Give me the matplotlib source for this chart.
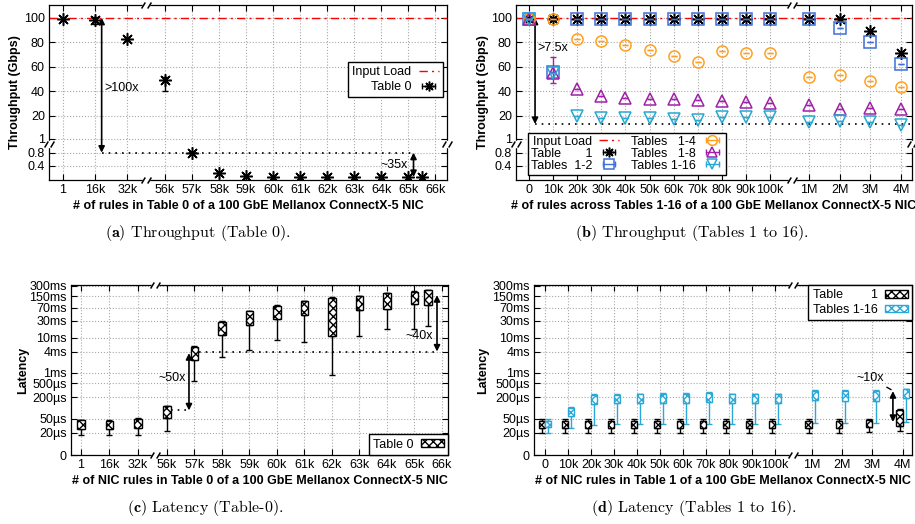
import numpy as np
import matplotlib
matplotlib.use("Agg")
import matplotlib.pyplot as plt
import matplotlib.transforms as mtransforms
from matplotlib.lines import Line2D
from matplotlib.patches import Patch
from matplotlib.path import Path
from matplotlib.legend_handler import HandlerLine2D
from matplotlib.ticker import NullLocator

plt.rcParams['font.family'] = ['Liberation Sans', 'DejaVu Sans']
plt.rcParams['mathtext.fontset'] = 'cm'
plt.rcParams['hatch.linewidth'] = 1.0

# ---------------- data ----------------
input_load = 100

# (a) throughput, Table 0
a_left_labels = ['1', '16k', '32k']
a_left_tput = [99, 98, 82.5]
a_left_err_lo = [0, 3, 0]
a_left_err_hi = [0, 2.5, 0]
a_right_k = [56, 57, 58, 59, 60, 61, 62, 63, 64, 65, 65.5]
a_right_ticks = [56, 57, 58, 59, 60, 61, 62, 63, 64, 65, 66]
a_right_tput = [49, 0.8, 0.17, 0.08, 0.05, 0.05, 0.05, 0.05, 0.05, 0.05, 0.05]
a_right_err_lo = [8.5, 0, 0, 0, 0, 0, 0, 0, 0, 0, 0]
a_right_err_hi = [3, 0, 0, 0, 0, 0, 0, 0, 0, 0, 0]

# (b) throughput, Tables 1-16
b_left_labels = ['0', '10k', '20k', '30k', '40k', '50k', '60k', '70k', '80k', '90k', '100k']
b_right_labels = ['1M', '2M', '3M', '4M']
b_names = ['Table       1', 'Tables  1-2', 'Tables   1-4', 'Tables   1-8', 'Tables 1-16']
b_t1 = [99, 99, 99, 99, 99, 99, 99, 99, 99, 99, 99, 99, 99, 89.5, 71]
b_t2 = [99, 56, 99, 99, 99, 99, 99, 99, 99, 99, 99, 99, 92, 80.5, 62]
b_t4 = [99, 99, 83, 81, 78, 74, 68.5, 63.5, 73, 71.5, 71.5, 52, 53.5, 48.5, 43.5]
b_t8 = [99, 55, 42, 36.5, 34.5, 34, 33.5, 33, 32, 31.5, 30.5, 29, 25.5, 26, 25.5]
b_t16 = [99, 55, 20, 18.5, 18, 17.8, 17.3, 16.5, 18.6, 18.6, 18.6, 15, 15.5, 14.5, 12.8]
b_t8_err_lo = [0, 8, 0, 0, 0, 0, 0, 0, 0, 0, 0, 0, 0, 0, 0]
b_t8_err_hi = [0, 13, 0, 0, 0, 0, 0, 0, 0, 0, 0, 0, 0, 0, 0]

# (c) latency, Table 0 (microseconds)
c_left_labels = ['1', '16k', '32k']
c_right_k = [56, 57, 58, 59, 60, 61, 62, 63, 64, 65, 65.5]
c_right_ticks = [56, 57, 58, 59, 60, 61, 62, 63, 64, 65, 66]
c_min = [17, 17, 17.5, 22, 594, 2800, 4500, 8700, 7500, 840, 10900, 16900, 16900, 21000]
c_q1 = [25.5, 25.5, 27, 53, 2250, 11600, 22000, 34000, 43000, 10900, 59000, 66000, 87000, 83000]
c_q3 = [44, 43, 49, 110, 5400, 28000, 56000, 81000, 107000, 135000, 150000, 178000, 200000, 218000]
c_max = [46, 46, 51, 115, 5600, 29000, 58000, 84000, 110000, 140000, 155000, 185000, 205000, 225000]

# (d) latency, Table 1 vs Tables 1-16 (microseconds)
d_left_labels = ['0', '10k', '20k', '30k', '40k', '50k', '60k', '70k', '80k', '90k', '100k']
d_right_labels = ['1M', '2M', '3M', '4M']
d_t1_min = [20, 20, 20, 20, 20, 20, 20, 20, 20, 20, 20, 20, 20, 21, 22]
d_t1_q1 = [27, 27, 27, 27, 27, 27, 27, 27, 27, 27, 27, 27, 27, 29, 31]
d_t1_q3 = [42, 42, 42, 42, 42, 42, 42, 42, 42, 42, 42, 42, 42, 46, 89]
d_t1_max = [47, 47, 47, 47, 47, 47, 47, 47, 47, 47, 47, 47, 47, 50, 95]
d_t16_min = [20, 27, 33, 34, 34, 35, 35, 35, 35, 35, 35, 37, 37, 38, 41]
d_t16_q1 = [28, 60, 129, 135, 135, 140, 140, 145, 138, 138, 138, 170, 160, 160, 190]
d_t16_q3 = [42, 100, 237, 237, 245, 255, 255, 265, 245, 245, 245, 310, 310, 310, 345]
d_t16_max = [48, 105, 245, 245, 255, 265, 265, 275, 255, 255, 255, 320, 320, 320, 355]

lat_ticks = [4.6, 20, 50, 200, 500, 1e3, 4e3, 1e4, 3e4, 7e4, 1.5e5, 3e5]
lat_labels = ['0', '20µs', '50µs', '200µs', '500µs', '1ms', '4ms', '10ms', '30ms', '70ms', '150ms', '300ms']

# colours
c_red = '#ff0000'
b_colors = ['#000000', '#3f6fd8', '#ffa020', '#a020a8', '#26a8d4']
b_markers = [(8, 2, 0), 's', 'o', '^', 'v']
cyan_box = '#2aa8d8'


# ---------------- helpers ----------------
def brk_fwd(y):
    y = np.asarray(y, dtype=float)
    return np.where(y < 1, 1.33 + 32.5 * y, 39.8 + 1.225 * y)


def brk_inv(t):
    t = np.asarray(t, dtype=float)
    return np.where(t < 33.83, (t - 1.33) / 32.5,
                    np.where(t < 41.0, 1.0, (t - 39.8) / 1.225))


fig = plt.figure(figsize=(9.15, 5.24), dpi=100)


def add_panel(l, t, r, b):
    return fig.add_axes([l / 915, 1 - b / 524, (r - l) / 915, (b - t) / 524])


def style(ax):
    ax.tick_params(direction='in', top=True, right=True, length=4, width=0.8,
                   labelsize=9, pad=3)
    ax.grid(True, ls=':', lw=0.8, color='#a8a8a8')
    ax.set_axisbelow(True)
    for s in ax.spines.values():
        s.set_linewidth(0.9)


# "//" break symbol: white parallelogram + two slanted strokes
brk_fill = Path([(-1.6, -1), (-0.4, 1), (1.6, 1), (0.4, -1), (-1.6, -1)],
                [Path.MOVETO, Path.LINETO, Path.LINETO, Path.LINETO, Path.CLOSEPOLY])
brk_lines = Path([(-1.6, -1), (-0.4, 1), (0.4, -1), (1.6, 1)],
                 [Path.MOVETO, Path.LINETO, Path.MOVETO, Path.LINETO])


def mark(ax, x, y, transform):
    ax.plot([x], [y], transform=transform, marker=brk_fill, ms=7, mfc='white',
            mec='white', mew=1, ls='none', clip_on=False, zorder=10)
    ax.plot([x], [y], transform=transform, marker=brk_lines, ms=7, mec='k',
            mew=1.1, ls='none', clip_on=False, zorder=11)


def xbreak(ax, xb):
    tr = mtransforms.blended_transform_factory(ax.transData, ax.transAxes)
    for yy in (0, 1):
        mark(ax, xb, yy, tr)


def ybreak(ax, yf):
    for xx in (0, 1):
        mark(ax, xx, yf, ax.transAxes)


def dbl_arrow(ax, x, y0, y1):
    ax.annotate('', xy=(x, y1), xytext=(x, y0),
                arrowprops=dict(arrowstyle='<|-|>', color='k', lw=1.2,
                                shrinkA=0, shrinkB=0, mutation_scale=9))


def dotted(ax, y, x0, x1):
    ax.plot([x0, x1], [y, y], color='k', lw=1.2, ls=(0, (1, 3)))


handler_map = {}


def eb_handle(color, marker):
    cap = Line2D([], [], color=color, lw=1, marker='|', markersize=5, mew=1)
    handler_map[cap] = HandlerLine2D(numpoints=2)
    pt = Line2D([], [], color=color, ls='none', marker=marker, markersize=7,
                mew=1.1, mfc='none')
    return (cap, pt)


def boxes(ax, x, lo, q1, q3, hi, color, w):
    lo, q1, q3, hi = (np.asarray(v, dtype=float) for v in (lo, q1, q3, hi))
    z = np.zeros_like(q1)
    ax.errorbar(x, q1, yerr=[q1 - lo, z], fmt='none', ecolor=color, elinewidth=1,
                capsize=2.5, capthick=1, zorder=2)
    ax.errorbar(x, q3, yerr=[z, hi - q3], fmt='none', ecolor=color, elinewidth=1,
                capsize=2.5, capthick=1, zorder=2)
    ax.bar(x, q3 - q1, bottom=q1, width=w, facecolor='white', edgecolor=color,
           hatch='xxxx', lw=1, zorder=3)


def legend_frame(leg):
    fr = leg.get_frame()
    fr.set_edgecolor('k')
    fr.set_linewidth(1.0)
    fr.set_boxstyle('square', pad=0)


# ---------------- (a) ----------------
axa = add_panel(49, 5, 447, 180)
axa.set_yscale('function', functions=(brk_fwd, brk_inv))
a_lpos = 54.6 - 1.2 * np.arange(len(a_left_labels))[::-1]
a_x = np.concatenate([a_lpos, a_right_k])
a_y = np.array(a_left_tput + a_right_tput)
a_err = [a_left_err_lo + a_right_err_lo, a_left_err_hi + a_right_err_hi]
axa.axhline(input_load, color=c_red, lw=1, dashes=(6, 3, 1.5, 3), zorder=1)
axa.errorbar(a_x, a_y, yerr=a_err, fmt='none', ecolor='k', elinewidth=1,
             capsize=2.5, capthick=1, zorder=3)
axa.plot(a_x, a_y, ls='none', marker=(8, 2, 0), ms=9, mew=1.1, color='k', zorder=4)
axa.set_xlim(51.7, 66.44)
axa.set_ylim(-0.041, 110.4)
axa.set_xticks(list(a_lpos) + a_right_ticks,
               a_left_labels + ['%dk' % k for k in a_right_ticks])
axa.set_yticks([0.4, 0.8, 1, 20, 40, 60, 80, 100],
               ['0.4', '0.8', '1', '20', '40', '60', '80', '100'])
axa.yaxis.set_minor_locator(NullLocator())
style(axa)
xbreak(axa, 55.3)
ybreak(axa, 0.207)
dbl_arrow(axa, 53.65, 0.8, input_load)
dotted(axa, 0.8, 53.65, 65.2)
axa.text(54.4, 43, '>100x', ha='center', va='center', fontsize=9)
dbl_arrow(axa, 65.2, 0.05, 0.8)
axa.text(64.5, 0.42, '~35x', ha='center', va='center', fontsize=9)
axa.set_ylabel('Throughput (Gbps)', fontsize=9, fontweight='bold')
axa.yaxis.set_label_coords(-0.070, 0.5)
axa.set_xlabel('# of rules in Table 0 of a 100 GbE Mellanox ConnectX-5 NIC',
               fontsize=9, fontweight='bold', labelpad=3)
leg = axa.legend([Line2D([], [], color=c_red, lw=1, dashes=(6, 3, 1.5, 3)),
                  eb_handle('k', (8, 2, 0))],
                 ['Input Load', 'Table 0'], handler_map=handler_map,
                 loc='upper right', bbox_to_anchor=(0.99, 0.674), borderaxespad=0,
                 markerfirst=False, fontsize=9, fancybox=False, framealpha=1,
                 handlelength=1.6, borderpad=0.35, labelspacing=0.2, handletextpad=0.6)
legend_frame(leg)

# ---------------- (b) ----------------
axb = add_panel(516, 5, 912, 180)
axb.set_yscale('function', functions=(brk_fwd, brk_inv))
b_x = np.concatenate([np.arange(len(b_left_labels)),
                      11.62 + 1.272 * np.arange(len(b_right_labels))])
axb.axhline(input_load, color=c_red, lw=1, dashes=(6, 3, 1.5, 3), zorder=1)
b_series = [b_t1, b_t2, b_t4, b_t8, b_t16]
zero = np.zeros(len(b_x))
for i, (vals, col, mk) in enumerate(zip(b_series, b_colors, b_markers)):
    err = [b_t8_err_lo, b_t8_err_hi] if i == 3 else [zero, zero]
    axb.errorbar(b_x, vals, yerr=err, fmt='none', ecolor=col, elinewidth=1,
                 capsize=2, capthick=1, zorder=3 + i)
    axb.plot(b_x, vals, ls='none', marker=mk, ms=9 if i == 0 else 8, mew=1.1,
             mfc='none', color=col, zorder=3 + i)
axb.set_xlim(-0.54, 15.89)
axb.set_ylim(-0.041, 110.4)
axb.set_xticks(b_x, b_left_labels + b_right_labels)
axb.set_yticks([0.4, 0.8, 1, 20, 40, 60, 80, 100],
               ['0.4', '0.8', '1', '20', '40', '60', '80', '100'])
axb.yaxis.set_minor_locator(NullLocator())
style(axb)
xbreak(axb, 10.91)
ybreak(axb, 0.207)
dbl_arrow(axb, 0.25, 13.2, input_load)
dotted(axb, 13.2, 0.25, 15.89)
axb.text(1.0, 75, '>7.5x', ha='center', va='center', fontsize=9)
axb.set_ylabel('Throughput (Gbps)', fontsize=9, fontweight='bold')
axb.yaxis.set_label_coords(-0.068, 0.5)
axb.set_xlabel('# of rules across Tables 1-16 of a 100 GbE Mellanox ConnectX-5 NIC',
               fontsize=9, fontweight='bold', labelpad=3)
b_handles = [Line2D([], [], color=c_red, lw=1, dashes=(6, 3, 1.5, 3))]
b_handles += [eb_handle(c, m) for c, m in zip(b_colors, b_markers)]
leg = axb.legend(b_handles, ['Input Load'] + b_names, handler_map=handler_map,
                 loc='lower left', bbox_to_anchor=(0.03, 0.029), borderaxespad=0,
                 ncol=2, markerfirst=False, fontsize=9, fancybox=False, framealpha=1,
                 handlelength=1.6, borderpad=0.25, labelspacing=0.0,
                 handletextpad=0.5, columnspacing=1.0)
legend_frame(leg)

# ---------------- (c) ----------------
axc = add_panel(71, 285, 448, 455)
axc.set_yscale('log')
c_lpos = 54.95 - 1.04 * np.arange(len(c_left_labels))[::-1]
c_x = np.concatenate([c_lpos, c_right_k])
boxes(axc, c_x, c_min, c_q1, c_q3, c_max, 'k', 0.27)
axc.set_xlim(52.51, 66.22)
axc.set_ylim(4.6, 310000)
axc.set_xticks(list(c_lpos) + c_right_ticks,
               c_left_labels + ['%dk' % k for k in c_right_ticks])
axc.set_yticks(lat_ticks, lat_labels)
axc.yaxis.set_minor_locator(NullLocator())
style(axc)
xbreak(axc, 55.56)
dotted(axc, 85, 56.15, 56.8)
dotted(axc, 4000, 57.15, 65.82)
dbl_arrow(axc, 56.8, 85, 3600)
axc.text(56.18, 720, '~50x', ha='center', va='center', fontsize=9)
dbl_arrow(axc, 65.82, 4000, 160000)
axc.text(65.16, 11400, '~40x', ha='center', va='center', fontsize=9)
axc.set_ylabel('Latency', fontsize=9, fontweight='bold')
axc.yaxis.set_label_coords(-0.112, 0.5)
axc.set_xlabel('# of NIC rules in Table 0 of a 100 GbE Mellanox ConnectX-5 NIC',
               fontsize=9, fontweight='bold', labelpad=3)
leg = axc.legend([Patch(facecolor='white', edgecolor='k', hatch='xxxx')], ['Table 0'],
                 loc='lower right', borderaxespad=0, markerfirst=False, fontsize=9,
                 fancybox=False, framealpha=1, handlelength=1.8, handleheight=0.6,
                 borderpad=0.35, handletextpad=0.6)
legend_frame(leg)

# ---------------- (d) ----------------
axd = add_panel(534, 285, 912, 455)
axd.set_yscale('log')
d_x = np.concatenate([np.arange(len(d_left_labels)),
                      11.6 + 1.32 * np.arange(len(d_right_labels))])
boxes(axd, d_x - 0.14, d_t1_min, d_t1_q1, d_t1_q3, d_t1_max, 'k', 0.27)
boxes(axd, d_x + 0.14, d_t16_min, d_t16_q1, d_t16_q3, d_t16_max, cyan_box, 0.27)
axd.set_xlim(-0.48, 15.96)
axd.set_ylim(4.6, 310000)
axd.set_xticks(d_x, d_left_labels + d_right_labels)
axd.set_yticks(lat_ticks, lat_labels)
axd.yaxis.set_minor_locator(NullLocator())
style(axd)
xbreak(axd, 10.78)
dbl_arrow(axd, 15.13, 40, 300)
axd.annotate('~10x', xy=(15.05, 330), xytext=(14.15, 720), ha='center', va='center',
             fontsize=9, arrowprops=dict(arrowstyle='-', color='k', lw=1,
                                         shrinkA=1, shrinkB=0))
axd.set_ylabel('Latency', fontsize=9, fontweight='bold')
axd.yaxis.set_label_coords(-0.118, 0.5)
axd.set_xlabel('# of NIC rules in Table 1 of a 100 GbE Mellanox ConnectX-5 NIC',
               fontsize=9, fontweight='bold', labelpad=3)
leg = axd.legend([Patch(facecolor='white', edgecolor='k', hatch='xxxx'),
                  Patch(facecolor='white', edgecolor=cyan_box, hatch='xxxx')],
                 ['Table        1', 'Tables 1-16'],
                 loc='upper right', borderaxespad=0, markerfirst=False, fontsize=9,
                 fancybox=False, framealpha=1, handlelength=1.8, handleheight=0.6,
                 borderpad=0.35, labelspacing=0.2, handletextpad=0.6)
legend_frame(leg)

# ---------------- captions ----------------
cap_kw = dict(ha='center', va='center', fontsize=11.5, family='cmr10')
fig.text(198 / 915, 1 - 233 / 524, r'$\mathbf{(a)}$ Throughput (Table 0).', **cap_kw)
fig.text(692 / 915, 1 - 233 / 524, r'$\mathbf{(b)}$ Throughput (Tables 1 to 16).', **cap_kw)
fig.text(205 / 915, 1 - 508 / 524, r'$\mathbf{(c)}$ Latency (Table-0).', **cap_kw)
fig.text(694 / 915, 1 - 508 / 524, r'$\mathbf{(d)}$ Latency (Tables 1 to 16).', **cap_kw)

fig.savefig('out.png', dpi=100)
